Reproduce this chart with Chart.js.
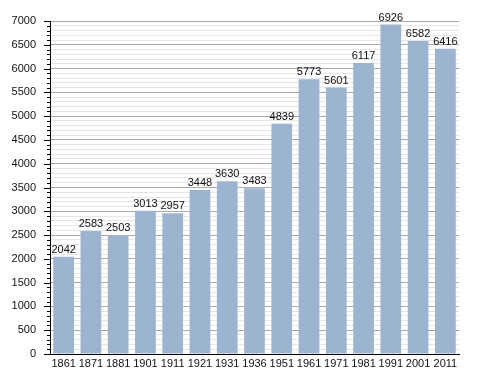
<!DOCTYPE html>
<html>
<head>
<meta charset="utf-8">
<script src="https://cdn.jsdelivr.net/npm/chart.js@4"></script>
<style>
  html, body { margin: 0; padding: 0; background: #fff; }
  #wrap { width: 488px; height: 373px; }
</style>
</head>
<body>
<div id="wrap"><canvas id="popChart" width="488" height="373"></canvas></div>
<script>
// Census years and population
const years = ['1861', '1871', '1881', '1901', '1911', '1921', '1931', '1936',
               '1951', '1961', '1971', '1981', '1991', '2001', '2011'];
const population = [2042, 2583, 2503, 3013, 2957, 3448, 3630, 3483,
                    4839, 5773, 5601, 6117, 6926, 6582, 6416];
const yMax = 7000;
const yMajorStep = 500;
const yMinorStep = 100;

const barColor = '#9cb4cf';
const fontFamily = '"Liberation Sans", Arial, sans-serif';

// Small ticks on the left of the y axis (long at majors, short at minors)
const axisTicks = {
    id: 'axisTicks',
    afterDraw(chart) {
        const ctx = chart.ctx;
        const y = chart.scales.y;
        const left = chart.chartArea.left;
        ctx.save();
        ctx.strokeStyle = '#000';
        ctx.lineWidth = 1;
        for (let v = 0; v <= yMax; v += yMinorStep) {
            const py = Math.round(y.getPixelForValue(v)) + 0.5;
            const len = v % yMajorStep === 0 ? 6 : 3;
            ctx.beginPath();
            ctx.moveTo(left - len, py);
            ctx.lineTo(left, py);
            ctx.stroke();
        }
        ctx.restore();
    }
};

// Value labels above each bar
const barValues = {
    id: 'barValues',
    afterDatasetsDraw(chart) {
        const ctx = chart.ctx;
        const meta = chart.getDatasetMeta(0);
        ctx.save();
        ctx.font = '11px ' + fontFamily;
        ctx.fillStyle = '#111';
        ctx.textAlign = 'center';
        ctx.textBaseline = 'alphabetic';
        meta.data.forEach((bar, i) => {
            ctx.fillText(String(population[i]), bar.x, bar.y - 4);
        });
        ctx.restore();
    }
};

new Chart(document.getElementById('popChart').getContext('2d'), {
    type: 'bar',
    data: {
        labels: years,
        datasets: [{
            data: population,
            backgroundColor: barColor,
            borderWidth: 0,
            barPercentage: 0.76,
            categoryPercentage: 1.0
        }]
    },
    options: {
        responsive: false,
        animation: false,
        layout: { padding: { top: 21, right: 29, left: 0, bottom: 0 } },
        plugins: {
            legend: { display: false },
            tooltip: { enabled: false }
        },
        scales: {
            x: {
                grid: { display: false, drawTicks: false },
                border: { color: '#000', width: 1 },
                ticks: {
                    color: '#111',
                    font: { size: 11, family: fontFamily },
                    padding: 3,
                    maxRotation: 0,
                    autoSkip: false
                },
                afterFit(scale) { scale.height = 19; }
            },
            y: {
                min: 0,
                max: yMax,
                grid: {
                    color: ctx => (ctx.tick && ctx.tick.value % yMajorStep === 0) ? '#a9a9a9' : '#e6e6e6',
                    tickColor: 'transparent',
                    tickLength: 6
                },
                border: { color: '#000', width: 1 },
                ticks: {
                    stepSize: yMinorStep,
                    autoSkip: false,
                    color: '#111',
                    padding: 8,
                    font: { size: 11, family: fontFamily },
                    callback: v => (v % yMajorStep === 0 ? String(v) : '')
                },
                afterFit(scale) { scale.width = 50; }
            }
        }
    },
    plugins: [axisTicks, barValues]
});
</script>
</body>
</html>
